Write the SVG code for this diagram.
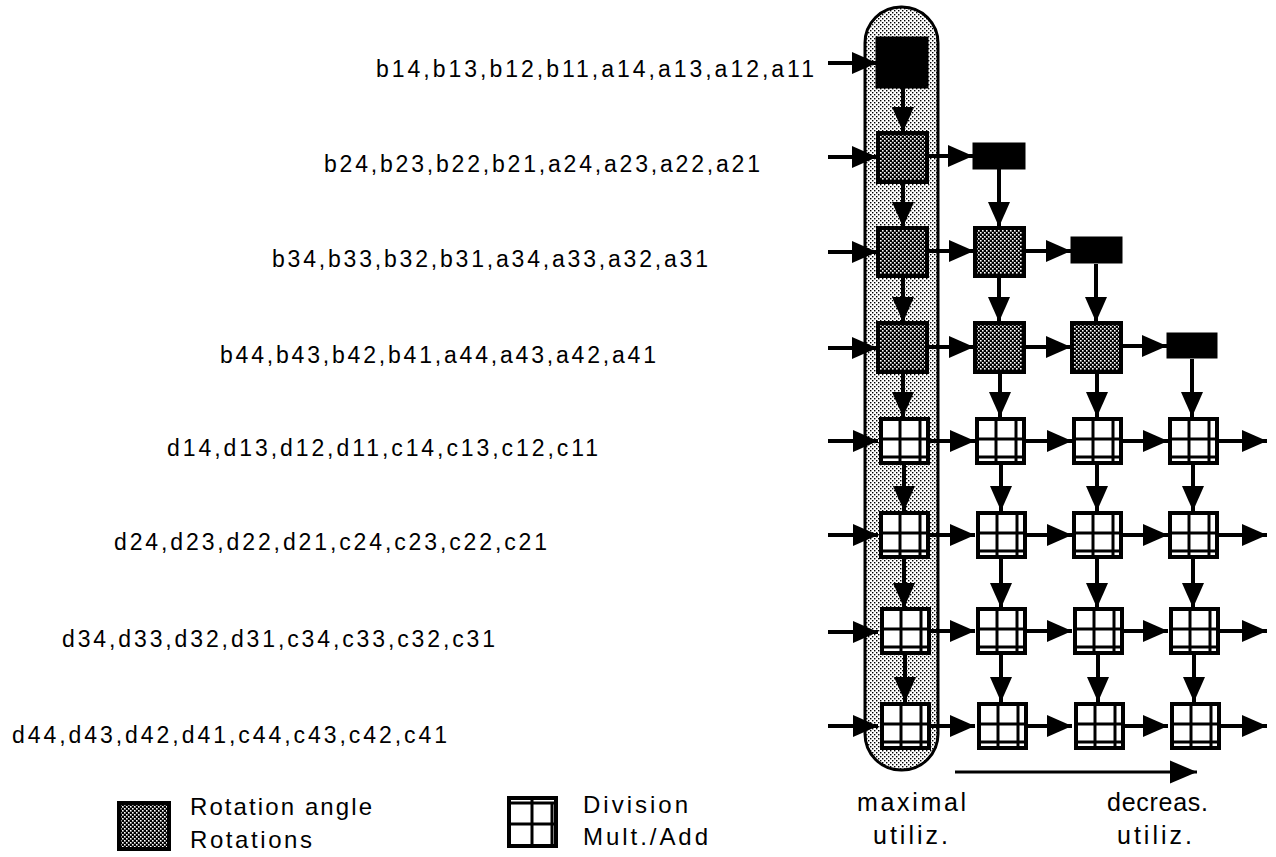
<svg xmlns="http://www.w3.org/2000/svg" width="1276" height="857" viewBox="0 0 1276 857">
  <style>
    .lbl { font-family: "Liberation Sans", Arial, sans-serif; font-size: 23px; fill: #000; }
    .leg { font-family: "Liberation Sans", Arial, sans-serif; font-size: 24px; fill: #000; }
    .cap { font-family: "Liberation Sans", Arial, sans-serif; font-size: 25px; fill: #000; }
    .wire { stroke: #000; stroke-width: 4; fill: none; marker-end: url(#head); }
    .solid { fill: #000; stroke: #000; stroke-width: 1; }
    .rot { fill: url(#dark); stroke: #000; stroke-width: 4; }
    .grid { fill: #fff; stroke: #000; stroke-width: 4; }
    .gl { stroke: #000; stroke-width: 3; }
  </style>
  <defs>
    <!-- light halftone used for the highlighted column -->
    <pattern id="light" width="4" height="4" patternUnits="userSpaceOnUse">
      <rect width="4" height="4" fill="#fff"/>
      <rect width="1.4" height="1.4" fill="#000"/>
      <rect x="2" y="2" width="1.4" height="1.4" fill="#000"/>
    </pattern>
    <!-- dark halftone used for rotation cells -->
    <pattern id="dark" width="4" height="4" patternUnits="userSpaceOnUse">
      <rect width="4" height="4" fill="#000"/>
      <rect width="1.6" height="1.6" fill="#fff"/>
      <rect x="2" y="2" width="1.6" height="1.6" fill="#fff"/>
    </pattern>
    <marker id="head" markerUnits="userSpaceOnUse" markerWidth="26" markerHeight="24" refX="25" refY="12" orient="auto">
      <path d="M0,1 L25,12 L0,23 Z" fill="#000"/>
    </marker>
    <marker id="headThin" markerUnits="userSpaceOnUse" markerWidth="28" markerHeight="24" refX="27" refY="12" orient="auto">
      <path d="M0,0.5 L27,12 L0,23.5 Z" fill="#000"/>
    </marker>
    <!-- multiply/add cell: framed grid -->
    <symbol id="cell" viewBox="0 0 51 48" width="51" height="48" overflow="visible">
      <rect x="2" y="2" width="47" height="44" class="grid"/>
      <line x1="21" y1="2" x2="21" y2="46" class="gl"/>
      <line x1="41" y1="2" x2="41" y2="46" class="gl"/>
      <line x1="2" y1="22" x2="49" y2="22" class="gl"/>
      <line x1="2" y1="40" x2="49" y2="40" class="gl"/>
    </symbol>
  </defs>

  <rect width="1276" height="857" fill="#fff"/>

  <!-- highlighted first column -->
  <g id="column-highlight">
    <rect x="865" y="7" width="73" height="763" rx="36" ry="36" fill="url(#light)" stroke="#000" stroke-width="3"/>
  </g>

  <!-- row input labels -->
  <g id="labels">
    <text class="lbl" x="376" y="77" textLength="438" lengthAdjust="spacing">b14,b13,b12,b11,a14,a13,a12,a11</text>
    <text class="lbl" x="324" y="172" textLength="436" lengthAdjust="spacing">b24,b23,b22,b21,a24,a23,a22,a21</text>
    <text class="lbl" x="272" y="267" textLength="436" lengthAdjust="spacing">b34,b33,b32,b31,a34,a33,a32,a31</text>
    <text class="lbl" x="220" y="363" textLength="436" lengthAdjust="spacing">b44,b43,b42,b41,a44,a43,a42,a41</text>
    <text class="lbl" x="167" y="456" textLength="431" lengthAdjust="spacing">d14,d13,d12,d11,c14,c13,c12,c11</text>
    <text class="lbl" x="114" y="550" textLength="433" lengthAdjust="spacing">d24,d23,d22,d21,c24,c23,c22,c21</text>
    <text class="lbl" x="62" y="647" textLength="433" lengthAdjust="spacing">d34,d33,d32,d31,c34,c33,c32,c31</text>
    <text class="lbl" x="12" y="743" textLength="435" lengthAdjust="spacing">d44,d43,d42,d41,c44,c43,c42,c41</text>
  </g>

  <!-- connectors -->
  <g id="connectors">
    <!-- row inputs -->
    <line class="wire" x1="828" y1="63" x2="877" y2="63"/>
    <line class="wire" x1="828" y1="157" x2="877" y2="157"/>
    <line class="wire" x1="828" y1="252" x2="877" y2="252"/>
    <line class="wire" x1="828" y1="348" x2="877" y2="348"/>
    <line class="wire" x1="828" y1="441" x2="878" y2="441"/>
    <line class="wire" x1="828" y1="535" x2="878" y2="535"/>
    <line class="wire" x1="828" y1="632" x2="878" y2="632"/>
    <line class="wire" x1="828" y1="726" x2="878" y2="726"/>
    <!-- horizontal links, rotation rows -->
    <line class="wire" x1="928" y1="156" x2="973" y2="156"/>
    <line class="wire" x1="928" y1="251" x2="974" y2="251"/>
    <line class="wire" x1="1025" y1="251" x2="1071" y2="251"/>
    <line class="wire" x1="928" y1="347" x2="974" y2="347"/>
    <line class="wire" x1="1025" y1="347" x2="1071" y2="347"/>
    <line class="wire" x1="1122" y1="346" x2="1167" y2="346"/>
    <!-- horizontal links, multiply/add rows -->
    <line class="wire" x1="930" y1="441" x2="975" y2="441"/>
    <line class="wire" x1="1026" y1="441" x2="1072" y2="441"/>
    <line class="wire" x1="1123" y1="441" x2="1168" y2="441"/>
    <line class="wire" x1="1219" y1="441" x2="1267" y2="441"/>
    <line class="wire" x1="930" y1="535" x2="975" y2="535"/>
    <line class="wire" x1="1026" y1="535" x2="1072" y2="535"/>
    <line class="wire" x1="1123" y1="535" x2="1168" y2="535"/>
    <line class="wire" x1="1219" y1="535" x2="1267" y2="535"/>
    <line class="wire" x1="930" y1="631" x2="975" y2="631"/>
    <line class="wire" x1="1026" y1="631" x2="1072" y2="631"/>
    <line class="wire" x1="1123" y1="631" x2="1168" y2="631"/>
    <line class="wire" x1="1219" y1="631" x2="1267" y2="631"/>
    <line class="wire" x1="930" y1="726" x2="975" y2="726"/>
    <line class="wire" x1="1026" y1="726" x2="1072" y2="726"/>
    <line class="wire" x1="1123" y1="726" x2="1168" y2="726"/>
    <line class="wire" x1="1219" y1="726" x2="1267" y2="726"/>
    <!-- column 1 vertical links -->
    <line class="wire" x1="903" y1="88" x2="903" y2="132"/>
    <line class="wire" x1="903" y1="183" x2="903" y2="227"/>
    <line class="wire" x1="903" y1="277" x2="903" y2="322"/>
    <line class="wire" x1="903" y1="373" x2="903" y2="417"/>
    <line class="wire" x1="904" y1="465" x2="904" y2="511"/>
    <line class="wire" x1="904" y1="559" x2="904" y2="608"/>
    <line class="wire" x1="905" y1="655" x2="905" y2="702"/>
    <!-- column 2 vertical links -->
    <line class="wire" x1="999" y1="169" x2="999" y2="227"/>
    <line class="wire" x1="999" y1="277" x2="999" y2="322"/>
    <line class="wire" x1="1000" y1="373" x2="1000" y2="417"/>
    <line class="wire" x1="1001" y1="465" x2="1001" y2="511"/>
    <line class="wire" x1="1001" y1="559" x2="1001" y2="608"/>
    <line class="wire" x1="1001" y1="655" x2="1001" y2="702"/>
    <!-- column 3 vertical links -->
    <line class="wire" x1="1096" y1="264" x2="1096" y2="322"/>
    <line class="wire" x1="1097" y1="373" x2="1097" y2="417"/>
    <line class="wire" x1="1097" y1="465" x2="1097" y2="511"/>
    <line class="wire" x1="1097" y1="559" x2="1097" y2="608"/>
    <line class="wire" x1="1098" y1="655" x2="1098" y2="702"/>
    <!-- column 4 vertical links -->
    <line class="wire" x1="1192" y1="359" x2="1192" y2="417"/>
    <line class="wire" x1="1193" y1="465" x2="1193" y2="511"/>
    <line class="wire" x1="1193" y1="559" x2="1193" y2="608"/>
    <line class="wire" x1="1194" y1="655" x2="1194" y2="702"/>
    <!-- utilization direction -->
    <line x1="955" y1="772" x2="1197" y2="772" stroke="#000" stroke-width="3" marker-end="url(#headThin)"/>
  </g>

  <!-- rotation-angle cells (solid) -->
  <g id="n-r1c1"><rect class="solid" x="876" y="37" width="52" height="51"/></g>
  <g id="n-r2c2"><rect class="solid" x="973" y="143" width="52" height="26"/></g>
  <g id="n-r3c3"><rect class="solid" x="1071" y="237" width="51" height="26"/></g>
  <g id="n-r4c4"><rect class="solid" x="1167" y="333" width="50" height="25"/></g>

  <!-- rotation cells (halftone) -->
  <g id="n-r2c1"><rect class="rot" x="878" y="133" width="49" height="49"/></g>
  <g id="n-r3c1"><rect class="rot" x="878" y="228" width="49" height="48"/></g>
  <g id="n-r3c2"><rect class="rot" x="975" y="228" width="49" height="48"/></g>
  <g id="n-r4c1"><rect class="rot" x="878" y="323" width="49" height="49"/></g>
  <g id="n-r4c2"><rect class="rot" x="975" y="323" width="49" height="49"/></g>
  <g id="n-r4c3"><rect class="rot" x="1072" y="323" width="49" height="49"/></g>

  <!-- multiply/add cells -->
  <g id="n-r5c1"><use href="#cell" x="879" y="417"/></g>
  <g id="n-r5c2"><use href="#cell" x="975" y="417"/></g>
  <g id="n-r5c3"><use href="#cell" x="1072" y="417"/></g>
  <g id="n-r5c4"><use href="#cell" x="1168" y="417"/></g>
  <g id="n-r6c1"><use href="#cell" x="879" y="511"/></g>
  <g id="n-r6c2"><use href="#cell" x="976" y="511"/></g>
  <g id="n-r6c3"><use href="#cell" x="1072" y="511"/></g>
  <g id="n-r6c4"><use href="#cell" x="1168" y="511"/></g>
  <g id="n-r7c1"><use href="#cell" x="880" y="607"/></g>
  <g id="n-r7c2"><use href="#cell" x="976" y="607"/></g>
  <g id="n-r7c3"><use href="#cell" x="1073" y="607"/></g>
  <g id="n-r7c4"><use href="#cell" x="1169" y="607"/></g>
  <g id="n-r8c1"><use href="#cell" x="880" y="702"/></g>
  <g id="n-r8c2"><use href="#cell" x="977" y="702"/></g>
  <g id="n-r8c3"><use href="#cell" x="1074" y="702"/></g>
  <g id="n-r8c4"><use href="#cell" x="1170" y="702"/></g>

  <!-- captions under the array -->
  <g id="captions">
    <text class="cap" x="857" y="811" textLength="109" lengthAdjust="spacing">maximal</text>
    <text class="cap" x="873" y="844" textLength="75" lengthAdjust="spacing">utiliz.</text>
    <text class="cap" x="1107" y="811" textLength="101" lengthAdjust="spacing">decreas.</text>
    <text class="cap" x="1117" y="844" textLength="75" lengthAdjust="spacing">utiliz.</text>
  </g>

  <!-- legend -->
  <g id="legend-rotation">
    <rect x="119" y="803" width="50" height="46" fill="url(#dark)" stroke="#000" stroke-width="4"/>
    <text class="leg" x="190" y="815" textLength="182" lengthAdjust="spacing">Rotation  angle</text>
    <text class="leg" x="190" y="848" textLength="122" lengthAdjust="spacing">Rotations</text>
  </g>
  <g id="legend-division">
    <rect x="509" y="798" width="47" height="48" fill="#fff" stroke="#000" stroke-width="4"/>
    <line x1="509" y1="803" x2="556" y2="803" class="gl" stroke-width="2"/>
    <line x1="532" y1="798" x2="532" y2="846" class="gl"/>
    <line x1="552" y1="803" x2="552" y2="846" class="gl" stroke-width="2"/>
    <line x1="509" y1="824" x2="556" y2="824" class="gl"/>
    <text class="leg" x="583" y="813" textLength="105" lengthAdjust="spacing">Division</text>
    <text class="leg" x="583" y="845" textLength="125" lengthAdjust="spacing">Mult./Add</text>
  </g>
</svg>
